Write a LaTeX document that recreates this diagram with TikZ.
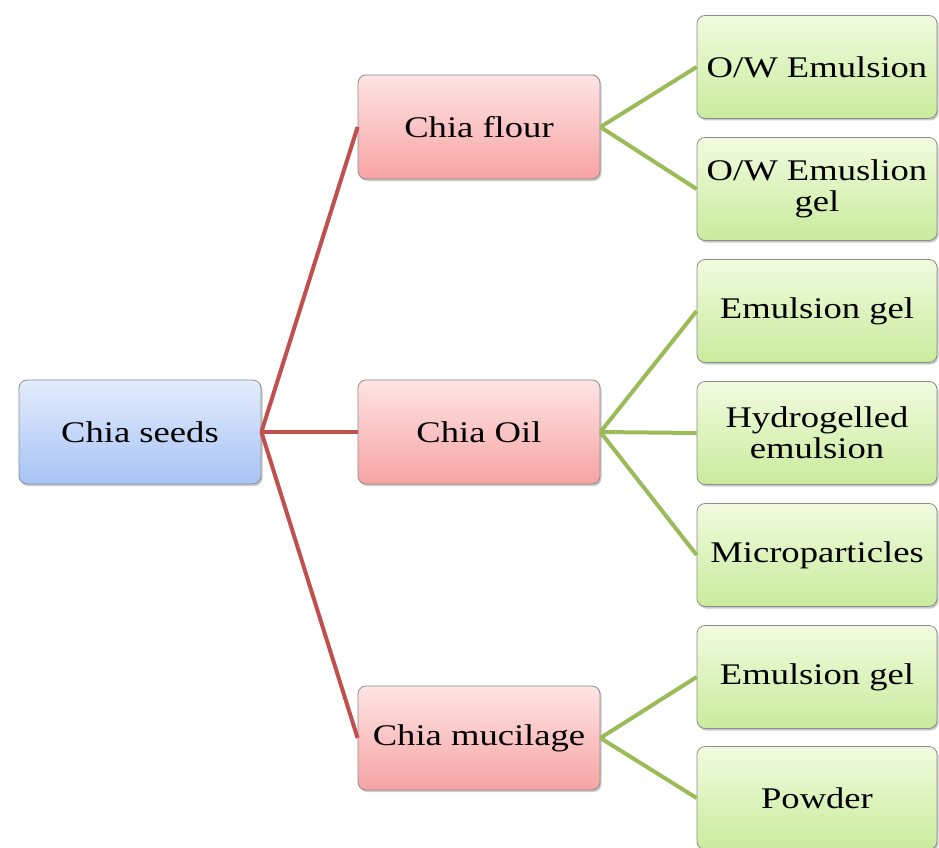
\documentclass[tikz,border=0pt]{standalone}
\usepackage{fontspec}
\setmainfont{Liberation Serif}[FakeStretch=1.22]
\usetikzlibrary{shadows}
\definecolor{blueT}{HTML}{E2ECFC}
\definecolor{blueB}{HTML}{A7C3F5}
\definecolor{redT}{HTML}{FEE4E4}
\definecolor{redB}{HTML}{F7A3A3}
\definecolor{greenT}{HTML}{F1FBDF}
\definecolor{greenB}{HTML}{C9EB9C}
\definecolor{redL}{HTML}{C0504D}
\definecolor{greenL}{HTML}{9BBB59}
\begin{document}
\begin{tikzpicture}[x=1pt,y=-1pt,
  box/.style={rounded corners=8pt, draw=black!45, line width=0.8pt,
    minimum width=242pt, minimum height=104pt, align=center, inner sep=2pt,
    font=\fontsize{30}{31}\selectfont,
    drop shadow={shadow xshift=1.5pt, shadow yshift=-2pt, opacity=0.35, fill=black!60}},
  rootbox/.style={box, top color=blueT, bottom color=blueB},
  midbox/.style={box, top color=redT, bottom color=redB},
  leafbox/.style={box, minimum width=240pt, minimum height=103pt, top color=greenT, bottom color=greenB},
  redline/.style={draw=redL, line width=4pt},
  greenline/.style={draw=greenL, line width=4pt}]
\useasboundingbox (0,0) rectangle (939,848);
\clip (0,0) rectangle (939,848);

\node[rootbox] (root) at (140,432) {Chia seeds};

\node[midbox] (flour) at (479,127) {Chia flour};
\node[midbox] (oil) at (479,432) {Chia Oil};
\node[midbox] (muc) at (479,738) {Chia mucilage};

\node[leafbox] (l1) at (817,67) {O/W Emulsion};
\node[leafbox] (l2) at (817,189) {O/W Emuslion\\gel};
\node[leafbox] (l3) at (817,311) {Emulsion gel};
\node[leafbox] (l4) at (817,433) {Hydrogelled\\emulsion};
\node[leafbox] (l5) at (817,555) {Microparticles};
\node[leafbox] (l6) at (817,677) {Emulsion gel};
\node[leafbox] (l7) at (817,798) {Powder};

\draw[redline] (root.east) -- (flour.west);
\draw[redline] (root.east) -- (oil.west);
\draw[redline] (root.east) -- (muc.west);

\draw[greenline] (flour.east) -- (l1.west);
\draw[greenline] (flour.east) -- (l2.west);
\draw[greenline] (oil.east) -- (l3.west);
\draw[greenline] (oil.east) -- (l4.west);
\draw[greenline] (oil.east) -- (l5.west);
\draw[greenline] (muc.east) -- (l6.west);
\draw[greenline] (muc.east) -- (l7.west);
\end{tikzpicture}
\end{document}
